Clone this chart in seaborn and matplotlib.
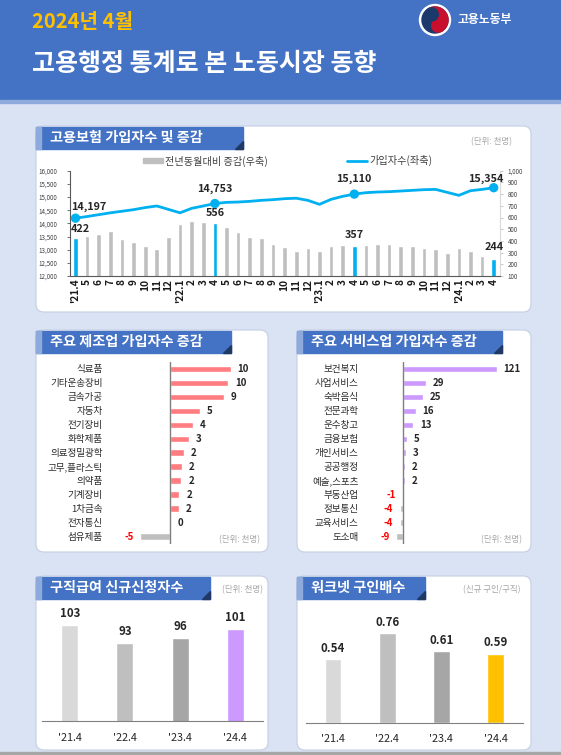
import numpy as np
import pandas as pd
import matplotlib
matplotlib.use("Agg")
import matplotlib.pyplot as plt
from matplotlib.patches import FancyBboxPatch, Rectangle, Polygon, Circle, Wedge
from matplotlib.ticker import StrMethodFormatter
import seaborn as sns

# ---- data ----
months = ["'21.4", "5", "6", "7", "8", "9", "10", "11", "12",
          "'22.1", "2", "3", "4", "5", "6", "7", "8", "9", "10", "11", "12",
          "'23.1", "2", "3", "4", "5", "6", "7", "8", "9", "10", "11", "12",
          "'24.1", "2", "3", "4"]
# year-on-year change (thousand, right axis)
yoy_change = [422, 442, 462, 487, 419, 388, 356, 334, 433,
              547, 567, 558, 556, 521, 473, 430, 427, 376, 350, 317, 339,
              314, 356, 368, 357, 365, 373, 371, 359, 356, 342, 334, 297,
              342, 311, 271, 244]
# insured persons (thousand, left axis)
subscribers = [14197, 14260, 14330, 14400, 14460, 14520, 14600, 14660, 14530,
               14400, 14570, 14660, 14753, 14798, 14810, 14836, 14874, 14900, 14937, 14955, 14874,
               14722, 14912, 15026, 15110, 15165, 15190, 15203, 15228, 15254, 15279, 15290, 15177,
               15064, 15240, 15290, 15354]

mfg_items = ["식료품", "기타운송장비", "금속가공", "자동차", "전기장비", "화학제품", "의료정밀광학",
             "고무,플라스틱", "의약품", "기계장비", "1차금속", "전자통신", "섬유제품"]
mfg_change = [10.0, 9.6, 8.9, 5.0, 3.8, 3.1, 2.3, 2.0, 1.9, 1.6, 1.55, 0.2, -4.8]

svc_items = ["보건복지", "사업서비스", "숙박음식", "전문과학", "운수창고", "금융보험", "개인서비스",
             "공공행정", "예술,스포츠", "부동산업", "정보통신", "교육서비스", "도소매"]
svc_change = [121, 29, 25, 16, 13, 5, 3, 2, 2, -1, -4, -4, -9]

years = ["'21.4", "'22.4", "'23.4", "'24.4"]
claims = [103, 93, 96, 101]
job_ratio = [0.54, 0.76, 0.61, 0.59]

# ---- style ----
sns.set_style("white")
plt.rcParams['font.family'] = ['Noto Sans CJK KR', 'DejaVu Sans']
plt.rcParams['axes.unicode_minus'] = False

BLUE = '#4472C4'
SKY = '#00B0F0'
GRAY = '#BFBFBF'
TXT = '#262626'

W, H = 561, 755
fig = plt.figure(figsize=(W / 100, H / 100), dpi=100)


def add_ax(x0, y0, x1, y1):
    a = fig.add_axes([x0 / W, 1 - y1 / H, (x1 - x0) / W, (y1 - y0) / H])
    a.set_facecolor('none')
    return a


bg = fig.add_axes([0, 0, 1, 1], zorder=0)
bg.set_xlim(0, W)
bg.set_ylim(H, 0)
bg.axis('off')
bg.add_patch(Rectangle((0, 0), W, H, color='#DAE3F3'))
bg.add_patch(Rectangle((0, 0), W, 100, color=BLUE))
bg.add_patch(Rectangle((0, 100), W, 3, color='#8EA9DB'))
bg.add_patch(Rectangle((0, 752), W, 3, color='#A6A6A6'))

# header
bg.text(32, 21, "2024년 4월", color='#FFC000', fontsize=14.5, fontweight='bold', va='center')
bg.text(32, 64, "고용행정 통계로 본 노동시장 동향", color='white', fontsize=18,
        fontweight='bold', va='center')
# ministry emblem
cx, cy, r = 435, 20, 13
bg.add_patch(Circle((cx, cy), r + 2.5, color='white'))
bg.add_patch(Circle((cx, cy), r, color='#1B3A6B'))
bg.add_patch(Wedge((cx, cy), r, 240, 60, color='#C8102E'))
c60, s60 = np.cos(np.radians(60)), np.sin(np.radians(60))
bg.add_patch(Circle((cx + r / 2 * c60, cy + r / 2 * s60), r / 2, color='#C8102E'))
bg.add_patch(Circle((cx - r / 2 * c60, cy - r / 2 * s60), r / 2, color='#1B3A6B'))
bg.text(458, 20, "고용노동부", color='white', fontsize=8.5, fontweight='bold', va='center')


def panel(x0, y0, x1, y1, tab_x1, title):
    bg.add_patch(FancyBboxPatch((x0, y0), x1 - x0, y1 - y0,
                                boxstyle="round,pad=0,rounding_size=8",
                                fc='white', ec='#C5CFE3', lw=0.8))
    bg.add_patch(Rectangle((x0, y0 + 1), tab_x1 - x0, 22, color=BLUE))
    bg.add_patch(Rectangle((x0, y0 + 1), 5, 22, color='#8EA9DB'))
    bg.add_patch(Polygon([(tab_x1 - 8, y0 + 23), (tab_x1, y0 + 23), (tab_x1, y0 + 15)],
                         color='#1F3864'))
    bg.text(x0 + 14, y0 + 12, title, color='white', fontsize=10.2, fontweight='bold', va='center')


def unit(x, y, s):
    bg.text(x, y, s, ha='right', va='center', fontsize=6.1, color='#A6A6A6')


panel(36, 126, 531, 312, 243, "고용보험 가입자수 및 증감")
panel(36, 330, 268, 552, 231, "주요 제조업 가입자수 증감")
panel(297, 330, 531, 552, 502, "주요 서비스업 가입자수 증감")
panel(36, 576, 268, 750, 210, "구직급여 신규신청자수")
panel(297, 576, 531, 750, 425, "워크넷 구인배수")

# ---- chart 1: insured persons ----
unit(512, 141.7, "(단위: 천명)")
bg.add_patch(Rectangle((143.3, 158.3), 19.4, 5, color=GRAY))
bg.text(165, 161.5, "전년동월대비 증감(우축)", fontsize=7.3, color='#404040', va='center')
bg.plot([346.7, 367.3], [160.7, 160.7], color=SKY, lw=2)
bg.text(369, 160.5, "가입자수(좌축)", fontsize=7.3, color='#404040', va='center')

df1 = pd.DataFrame({'idx': np.arange(len(months)), 'yoy': yoy_change, 'subs': subscribers})
april = [i for i, m in enumerate(months) if m.split('.')[-1] == '4']
bar_pal = {i: (SKY if i in april else GRAY) for i in df1['idx']}

ax1 = add_ax(69.7, 170.7, 499.5, 276)
sns.barplot(data=df1, x='idx', y='yoy', hue='idx', palette=bar_pal, width=0.4,
            saturation=1, legend=False, ax=ax1)
ax1.set_ylim(100, 1000)
ax2 = ax1.twinx()
sns.lineplot(data=df1, x='idx', y='subs', ax=ax2, color=SKY, lw=2)
sns.scatterplot(data=df1.iloc[april], x='idx', y='subs', ax=ax2, color=SKY, s=45,
                edgecolor='none', zorder=5)
ax2.set_ylim(12000, 16000)
ax1.set_xlim(-0.5, len(months) - 0.5)

ax1.yaxis.tick_right()
ax2.yaxis.tick_left()
ax1.set_yticks(range(100, 1001, 100))
ax2.set_yticks(range(12000, 16001, 500))
ax1.yaxis.set_major_formatter(StrMethodFormatter('{x:,.0f}'))
ax2.yaxis.set_major_formatter(StrMethodFormatter('{x:,.0f}'))
ax1.set_xticks(df1['idx'])
ax1.set_xticklabels(months, rotation=90, fontweight='bold')
ax1.tick_params(axis='x', length=0, pad=2, labelsize=7.3, labelcolor='#1A1A1A')
ax1.tick_params(axis='y', length=2, width=0.6, color='#BFBFBF', pad=4, labelsize=4.5,
                labelcolor='#404040')
ax2.tick_params(axis='y', length=2, width=0.6, color='#595959', pad=7, labelsize=4.5,
                labelcolor='#404040')
for a in (ax1, ax2):
    a.set_xlabel('')
    a.set_ylabel('')
    for s in a.spines.values():
        s.set_visible(False)
ax1.spines['bottom'].set_visible(True)
ax1.spines['bottom'].set_color('#595959')
ax1.spines['right'].set_visible(True)
ax1.spines['right'].set_color('#D9D9D9')
ax2.spines['left'].set_visible(True)
ax2.spines['left'].set_color('#595959')

line_off = [(13.5, -11), (0, -15), (0, -15), (-8, -9)]
bar_off = [(4.5, -9.3), (0, -9.3), (0, -11), (0, -11.7)]
for k, i in enumerate(april):
    dx, dy = line_off[k]
    ax2.annotate(f"{subscribers[i]:,}", (i, subscribers[i]), xytext=(dx * 0.72, -dy * 0.72),
                 textcoords='offset points', ha='center', va='center', fontsize=7.8,
                 fontweight='bold', color=TXT)
    dx, dy = bar_off[k]
    ax1.annotate(f"{yoy_change[i]}", (i, yoy_change[i]), xytext=(dx * 0.72, -dy * 0.72),
                 textcoords='offset points', ha='center', va='center', fontsize=7.8,
                 fontweight='bold', color=TXT)


# ---- charts 2 & 3: industry bars ----
def hbar(rect, items, vals, color, xlim, pad, unit_x):
    a = add_ax(*rect)
    d = pd.DataFrame({'item': items, 'chg': vals})
    pal = {it: (color if v > 0 else GRAY) for it, v in zip(items, vals)}
    sns.barplot(data=d, x='chg', y='item', hue='item', palette=pal, orient='h', width=0.48,
                saturation=1, legend=False, ax=a)
    a.set_xlim(*xlim)
    a.set_ylim(len(items) - 0.5, -0.5)
    a.axvline(0, color='#7F7F7F', lw=1)
    for s in a.spines.values():
        s.set_visible(False)
    a.set_xticks([])
    a.set_xlabel('')
    a.set_ylabel('')
    a.tick_params(axis='y', length=0, pad=pad, labelsize=6.9, labelcolor='#2B2B2B')
    for i, v in enumerate(vals):
        if v < 0:
            a.annotate(f"{v:.0f}", (v, i), xytext=(-5, 0), textcoords='offset points',
                       ha='right', va='center', fontsize=7, fontweight='bold', color='#FF0000')
        else:
            a.annotate(f"{v:.0f}", (v, i), xytext=(5, 0), textcoords='offset points',
                       ha='left', va='center', fontsize=7, fontweight='bold', color=TXT)
    unit(unit_x, 540, "(단위: 천명)")


hbar((120, 362, 262, 543.7), mfg_items, mfg_change, '#FF7C80', (-8.15, 15.13), 12.5, 260)
hbar((370, 362, 525, 543.7), svc_items, svc_change, '#CC99FF', (-43.2, 157.8), 8.4, 521.7)


# ---- charts 4 & 5: column bars ----
def vbar(rect, vals, colors, ylim, fmt, pad):
    a = add_ax(*rect)
    d = pd.DataFrame({'year': years, 'v': vals})
    sns.barplot(data=d, x='year', y='v', hue='year', palette=dict(zip(years, colors)),
                width=0.31, saturation=1, legend=False, ax=a)
    a.set_ylim(*ylim)
    a.set_xlim(-0.5, 3.5)
    for s in a.spines.values():
        s.set_visible(False)
    a.spines['bottom'].set_visible(True)
    a.spines['bottom'].set_color('#808080')
    a.set_yticks([])
    a.set_xlabel('')
    a.set_ylabel('')
    a.tick_params(axis='x', length=0, pad=pad, labelsize=7.8, labelcolor=TXT)
    for i, v in enumerate(vals):
        a.annotate(fmt.format(v), (i, v), xytext=(0, 8), textcoords='offset points',
                   ha='center', va='center', fontsize=8.3, fontweight='bold', color=TXT)


unit(262.7, 590, "(단위: 천명)")
vbar((42.3, 600, 262.7, 720.7), claims, ['#D9D9D9', '#BFBFBF', '#A6A6A6', '#CC99FF'],
     (50, 116.8), "{}", 8.6)
unit(521, 590, "(신규 구인/구직)")
vbar((306, 600, 522.7, 723.3), job_ratio, ['#D9D9D9', '#BFBFBF', '#A6A6A6', '#FFC000'],
     (0, 1.043), "{:.2f}", 8)

fig.savefig("out.png", dpi=100)
